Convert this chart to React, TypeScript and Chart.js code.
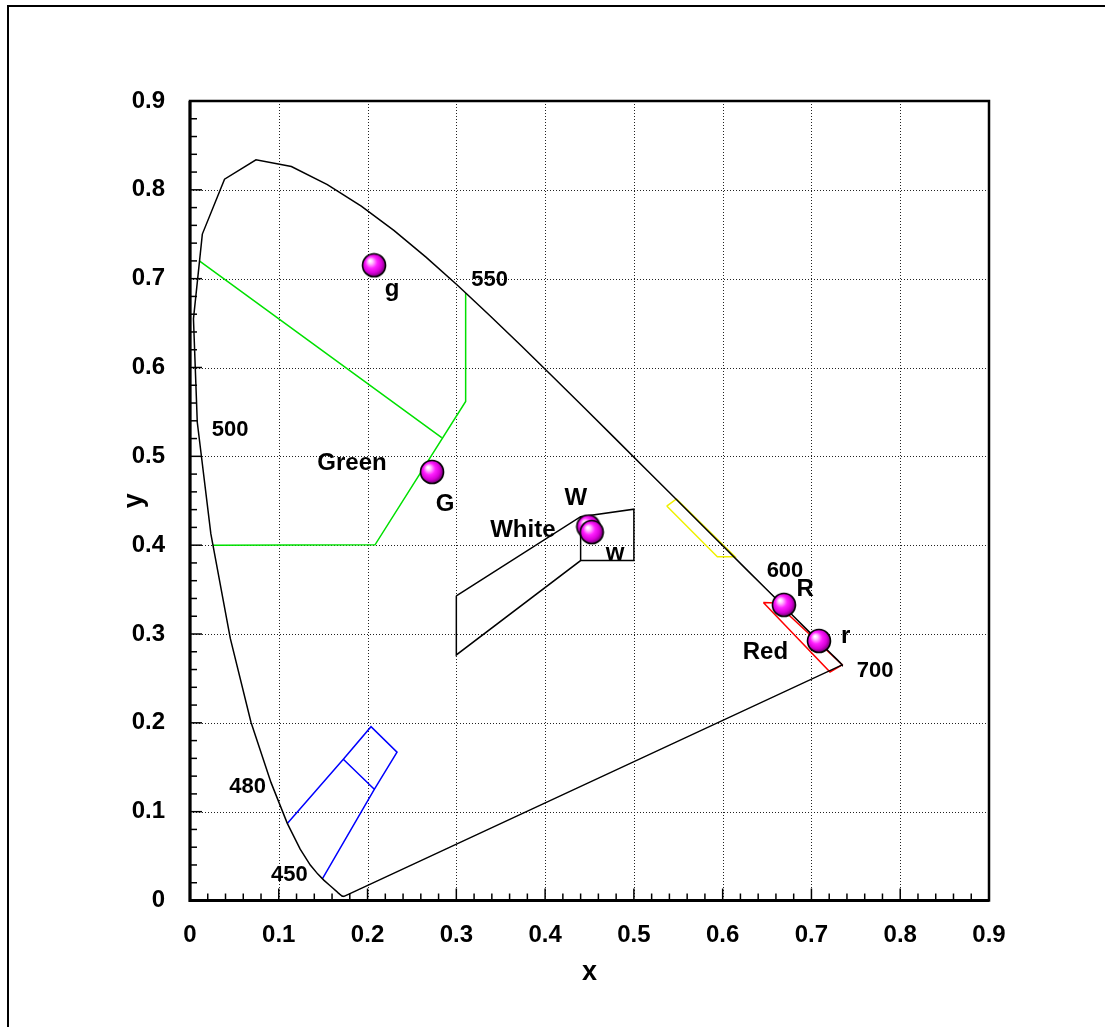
import React, { useEffect, useRef } from 'react';
import { Chart, registerables } from 'chart.js';

Chart.register(...registerables);

// CIE 1931 spectral locus (380–700 nm, 5 nm steps)
const locusX = [0.1741, 0.1740, 0.1738, 0.1736, 0.1733, 0.1730, 0.1726, 0.1721, 0.1714, 0.1703, 0.1689, 0.1669, 0.1644, 0.1611, 0.1566, 0.1510, 0.1440, 0.1355, 0.1241, 0.1096, 0.0913, 0.0687, 0.0454, 0.0235, 0.0082, 0.0039, 0.0139, 0.0389, 0.0743, 0.1142, 0.1547, 0.1929, 0.2296, 0.2658, 0.3016, 0.3373, 0.3731, 0.4087, 0.4441, 0.4788, 0.5125, 0.5448, 0.5752, 0.6029, 0.6270, 0.6482, 0.6658, 0.6801, 0.6915, 0.7006, 0.7079, 0.7140, 0.7190, 0.7230, 0.7260, 0.7283, 0.7300, 0.7311, 0.7320, 0.7327, 0.7334, 0.7340, 0.7344, 0.7346, 0.7347, 0.1741];
const locusY = [0.0050, 0.0050, 0.0049, 0.0049, 0.0048, 0.0048, 0.0048, 0.0048, 0.0051, 0.0058, 0.0069, 0.0086, 0.0109, 0.0138, 0.0177, 0.0227, 0.0297, 0.0399, 0.0578, 0.0868, 0.1327, 0.2007, 0.2950, 0.4127, 0.5384, 0.6548, 0.7502, 0.8120, 0.8338, 0.8262, 0.8059, 0.7816, 0.7543, 0.7243, 0.6923, 0.6589, 0.6245, 0.5896, 0.5547, 0.5202, 0.4866, 0.4544, 0.4242, 0.3965, 0.3725, 0.3514, 0.3340, 0.3197, 0.3083, 0.2993, 0.2920, 0.2859, 0.2809, 0.2770, 0.2740, 0.2717, 0.2700, 0.2689, 0.2680, 0.2673, 0.2666, 0.2660, 0.2656, 0.2654, 0.2653, 0.0050];

// Green boundary (null = pen up)
const greenX = [0.0105, 0.2835, null, 0.0259, 0.2084, 0.3105, 0.3105];
const greenY = [0.7200, 0.5210, null, 0.4000, 0.4004, 0.5617, 0.6838];

// Blue boundary
const blueX = [0.1096, 0.1727, 0.2039, 0.2332, 0.2076, 0.1494, null, 0.1727, 0.2076];
const blueY = [0.0868, 0.1590, 0.1957, 0.1669, 0.1252, 0.0250, null, 0.1590, 0.1252];

// White boundary
const whiteX = [0.300, 0.440, 0.500, 0.500, 0.440, 0.300, 0.300, null, 0.440, 0.440];
const whiteY = [0.343, 0.432, 0.4405, 0.3827, 0.3827, 0.2765, 0.343, null, 0.432, 0.3827];

// Yellow boundary
const yellowX = [0.537, 0.548, 0.614, 0.594, 0.537];
const yellowY = [0.444, 0.452, 0.387, 0.387, 0.444];

// Red boundary
const redX = [0.6458, 0.660, 0.7347, 0.7209, 0.6458];
const redY = [0.3354, 0.335, 0.2653, 0.2573, 0.3354];

// Measured points (g, G, R, r, W, w)
const pointNames = ['g', 'G', 'R', 'r', 'W', 'w'];
const pointX = [0.2073, 0.2726, 0.6690, 0.7085, 0.4487, 0.4525];
const pointY = [0.7151, 0.4825, 0.3328, 0.2922, 0.4210, 0.4147];

// Text annotations
const labelTexts = ['g', 'G', 'R', 'r', 'W', 'w', 'Green', 'White', 'Red', '550', '500', '480', '450', '600', '700'];
const labelX = [0.2275, 0.2872, 0.6928, 0.7386, 0.4345, 0.4788, 0.1825, 0.3749, 0.6482, 0.3374, 0.0451, 0.0650, 0.1119, 0.6702, 0.7716];
const labelY = [0.6807, 0.4379, 0.3430, 0.2896, 0.4454, 0.3834, 0.4848, 0.4097, 0.2719, 0.6912, 0.5224, 0.1214, 0.0219, 0.3640, 0.2521];
const labelIsNumber = [false, false, false, false, false, false, false, false, false, true, true, true, true, true, true];

const tickValues = [0, 0.1, 0.2, 0.3, 0.4, 0.5, 0.6, 0.7, 0.8, 0.9];

const FONT = '"Liberation Sans", Arial, Helvetica, sans-serif';

const zip = (xs: (number | null)[], ys: (number | null)[]) =>
  xs.map((x, i) => (x === null ? { x: NaN, y: NaN } : { x, y: ys[i] as number }));

function makeSphere(): HTMLCanvasElement {
  const size = 26;
  const c = document.createElement('canvas');
  c.width = size;
  c.height = size;
  const ctx = c.getContext('2d')!;
  const r = 11.5;
  const cx = size / 2;
  const cy = size / 2;
  const g = ctx.createRadialGradient(cx - 4, cy - 4.5, 0.5, cx - 1, cy - 1, r + 1);
  g.addColorStop(0, '#ffffff');
  g.addColorStop(0.15, '#ffc8ff');
  g.addColorStop(0.45, '#ff20ff');
  g.addColorStop(0.75, '#d800d8');
  g.addColorStop(1, '#700070');
  ctx.beginPath();
  ctx.arc(cx, cy, r, 0, Math.PI * 2);
  ctx.fillStyle = g;
  ctx.fill();
  ctx.lineWidth = 1.6;
  ctx.strokeStyle = '#000';
  ctx.stroke();
  return c;
}

const fmt = (v: number | string) => {
  const n = Math.round(Number(v) * 100) / 100;
  return n === 0 ? '0' : String(n);
};

const decorPlugin = {
  id: 'decor',
  beforeDatasetsDraw(chart: any) {
    const { ctx, chartArea } = chart;
    const xs = chart.scales.x;
    const ys = chart.scales.y;
    ctx.save();
    ctx.strokeStyle = '#222';
    ctx.lineWidth = 1;
    ctx.setLineDash([1, 2]);
    tickValues.forEach((v) => {
      if (v <= 0 || v >= 0.9) return;
      const px = Math.round(xs.getPixelForValue(v)) + 0.5;
      ctx.beginPath();
      ctx.moveTo(px, chartArea.top);
      ctx.lineTo(px, chartArea.bottom);
      ctx.stroke();
      const py = Math.round(ys.getPixelForValue(v)) + 0.5;
      ctx.beginPath();
      ctx.moveTo(chartArea.left, py);
      ctx.lineTo(chartArea.right, py);
      ctx.stroke();
    });
    ctx.restore();
  },
  afterDatasetsDraw(chart: any) {
    const { ctx, chartArea } = chart;
    const xs = chart.scales.x;
    const ys = chart.scales.y;
    ctx.save();
    // inward ticks on left and bottom
    ctx.strokeStyle = '#000';
    ctx.lineWidth = 1.5;
    for (let i = 1; i < 45; i++) {
      const v = i * 0.02;
      const major = i % 5 === 0;
      const len = major ? 12 : 7;
      const px = xs.getPixelForValue(v);
      ctx.beginPath();
      ctx.moveTo(px, chartArea.bottom);
      ctx.lineTo(px, chartArea.bottom - len);
      ctx.stroke();
      const py = ys.getPixelForValue(v);
      ctx.beginPath();
      ctx.moveTo(chartArea.left, py);
      ctx.lineTo(chartArea.left + len, py);
      ctx.stroke();
    }
    // plot box
    ctx.lineWidth = 2.5;
    ctx.strokeRect(chartArea.left, chartArea.top, chartArea.right - chartArea.left, chartArea.bottom - chartArea.top);
    ctx.lineWidth = 3;
    ctx.beginPath();
    ctx.moveTo(chartArea.left, chartArea.top);
    ctx.lineTo(chartArea.left, chartArea.bottom);
    ctx.lineTo(chartArea.right, chartArea.bottom);
    ctx.stroke();

    // annotations
    ctx.fillStyle = '#000';
    ctx.textAlign = 'center';
    ctx.textBaseline = 'alphabetic';
    labelTexts.forEach((t, i) => {
      ctx.font = `bold ${labelIsNumber[i] ? 22 : 24}px ${FONT}`;
      ctx.fillText(t, xs.getPixelForValue(labelX[i]), ys.getPixelForValue(labelY[i]));
    });

    // axis titles
    ctx.font = `bold 27px ${FONT}`;
    ctx.fillText('x', (chartArea.left + chartArea.right) / 2, chartArea.bottom + 79);
    ctx.translate(chartArea.left - 48, (chartArea.top + chartArea.bottom) / 2);
    ctx.rotate(-Math.PI / 2);
    ctx.fillText('y', 0, 0);
    ctx.restore();
  },
};

export default function App() {
  const ref = useRef<HTMLCanvasElement | null>(null);

  useEffect(() => {
    if (!ref.current) return;
    const sphere = makeSphere();
    const lineDs = (label: string, data: any[], color: string, width: number, order: number) => ({
      type: 'scatter' as const,
      label,
      data,
      showLine: true,
      spanGaps: false,
      borderColor: color,
      borderWidth: width,
      pointRadius: 0,
      pointHoverRadius: 0,
      fill: false,
      tension: 0,
      order,
    });
    const tickFont = { family: FONT, size: 24, weight: 'bold' as const };
    const chart = new Chart(ref.current, {
      type: 'scatter',
      data: {
        datasets: [
          {
            label: 'points',
            data: pointX.map((x, i) => ({ x, y: pointY[i], name: pointNames[i] })),
            pointStyle: sphere as any,
            pointRadius: 12,
            showLine: false,
            order: 0,
          } as any,
          lineDs('locus', zip(locusX, locusY), '#000000', 1.5, 1),
          lineDs('green', zip(greenX, greenY), '#00e000', 1.5, 2),
          lineDs('blue', zip(blueX, blueY), '#0000ff', 1.5, 2),
          lineDs('white', zip(whiteX, whiteY), '#000000', 1.5, 2),
          lineDs('yellow', zip(yellowX, yellowY), '#f0f000', 1.5, 2),
          lineDs('red', zip(redX, redY), '#ff0000', 1.5, 2),
        ],
      },
      options: {
        animation: false,
        responsive: false,
        devicePixelRatio: 1,
        layout: { padding: { left: 110, top: 101, right: 116, bottom: 66.5 } },
        plugins: { legend: { display: false }, tooltip: { enabled: false } },
        events: [],
        scales: {
          x: {
            type: 'linear',
            min: 0,
            max: 0.9,
            grid: { display: false },
            border: { display: false },
            ticks: { stepSize: 0.1, padding: 12, color: '#000', font: tickFont, callback: (v: any) => fmt(v), maxRotation: 0, autoSkip: false },
            afterFit: (s: any) => { s.height = 60; },
          },
          y: {
            type: 'linear',
            min: 0,
            max: 0.9,
            grid: { display: false },
            border: { display: false },
            ticks: { stepSize: 0.1, padding: 17, color: '#000', font: tickFont, callback: (v: any) => fmt(v), autoSkip: false },
            afterFit: (s: any) => { s.width = 80; },
          },
        },
      },
      plugins: [decorPlugin],
    });
    return () => chart.destroy();
  }, []);

  return (
    <div style={{ position: 'fixed', left: 0, top: 0, width: 1105, height: 1027, background: '#fff', overflow: 'hidden' }}>
      <canvas ref={ref} width={1105} height={1027} style={{ position: 'absolute', left: 0, top: 0, width: 1105, height: 1027 }} />
      <div style={{ position: 'absolute', left: 7, top: 5, width: 1200, height: 1200, borderLeft: '2px solid #000', borderTop: '2px solid #000', pointerEvents: 'none' }} />
    </div>
  );
}
